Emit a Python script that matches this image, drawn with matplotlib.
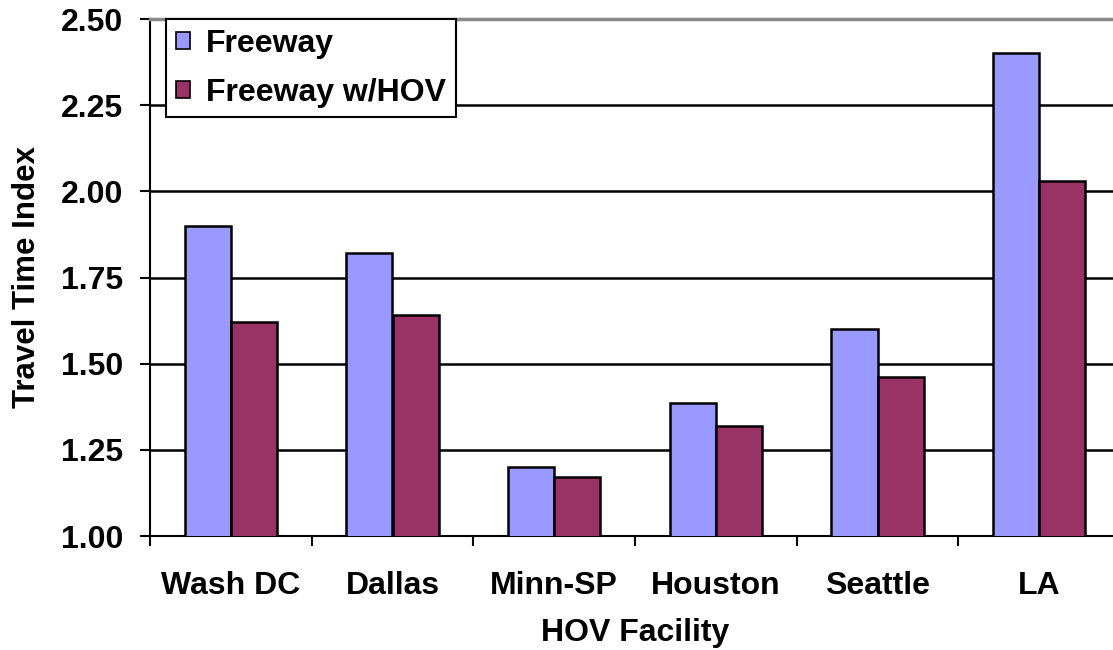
import numpy as np
import matplotlib
matplotlib.use('Agg')
import matplotlib.pyplot as plt
from matplotlib.ticker import FixedLocator, FormatStrFormatter

# data
facilities = ['Wash DC', 'Dallas', 'Minn-SP', 'Houston', 'Seattle', 'LA']
freeway = [1.90, 1.82, 1.20, 1.385, 1.60, 2.40]
freeway_hov = [1.62, 1.64, 1.17, 1.32, 1.46, 2.03]
series_names = ['Freeway', 'Freeway w/HOV']
colors = ['#9999FF', '#993366']

plt.rcParams['font.family'] = ['Liberation Sans', 'DejaVu Sans']
plt.rcParams['font.weight'] = 'bold'

fig = plt.figure(figsize=(11.13, 6.5), dpi=100)
ax = fig.add_axes([150 / 1113, 114 / 650, 970 / 1113, 517 / 650])

x = np.arange(len(facilities))
w = 0.285
ax.bar(x - w / 2, freeway, w, color=colors[0], edgecolor='black', linewidth=1.8,
       label=series_names[0], zorder=3)
ax.bar(x + w / 2, freeway_hov, w, color=colors[1], edgecolor='black', linewidth=1.8,
       label=series_names[1], zorder=3)

ax.set_ylim(1.0, 2.5)
ax.set_xlim(-0.5, len(facilities) - 0.5)
ax.set_yticks(np.arange(1.0, 2.51, 0.25))
ax.yaxis.set_major_formatter(FormatStrFormatter('%.2f'))
ax.yaxis.grid(True, color='black', linewidth=1.8)
ax.set_axisbelow(True)

ax.set_xticks(x)
ax.set_xticklabels(facilities)
ax.xaxis.set_minor_locator(FixedLocator(np.arange(-0.5, len(facilities), 1.0)))
ax.tick_params(axis='x', which='major', length=0, pad=25.5, labelsize=23)
ax.tick_params(axis='x', which='minor', length=7.5, width=1.5, direction='out')
ax.tick_params(axis='y', length=7.5, width=1.5, direction='out', pad=12, labelsize=23)

ax.spines['right'].set_visible(False)
ax.spines['top'].set_color('#888888')
ax.spines['top'].set_linewidth(2.5)
ax.spines['left'].set_linewidth(1.5)
ax.spines['bottom'].set_linewidth(1.5)

ax.set_xlabel('HOV Facility', fontsize=23, fontweight='bold', labelpad=12)
ax.set_ylabel('Travel Time Index', fontsize=22.5, fontweight='bold', labelpad=13)

leg = ax.legend(loc='upper left', bbox_to_anchor=(16 / 970, 1.0), fontsize=23,
                frameon=True, fancybox=False, framealpha=1, edgecolor='black',
                handlelength=0.45, handleheight=0.45, handletextpad=0.5,
                borderpad=0.3, labelspacing=0.6, borderaxespad=0)
leg.get_frame().set_linewidth(1.5)
for p in leg.get_patches():
    p.set_linewidth(1.2)

fig.savefig('out.png', dpi=100)
